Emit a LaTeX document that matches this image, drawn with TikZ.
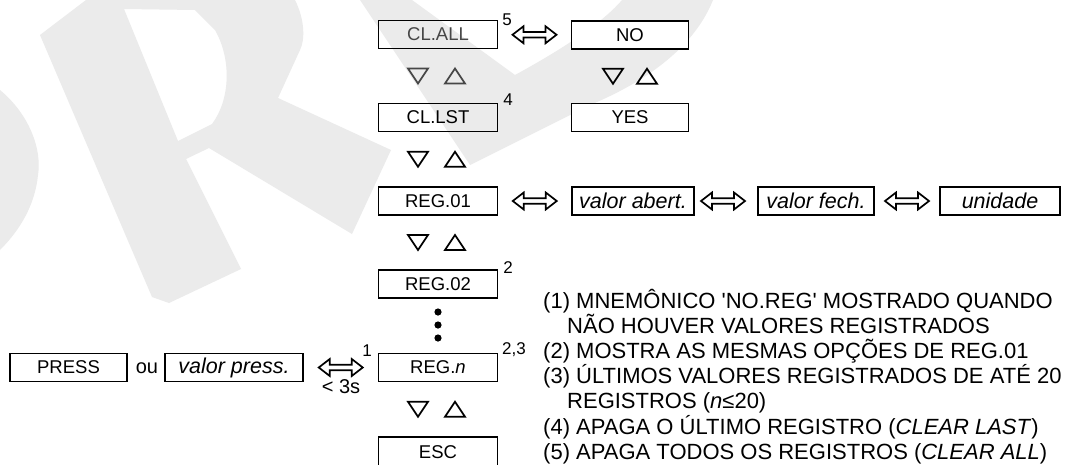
\documentclass[tikz,border=0pt]{standalone}
\usepackage{fontspec}
\setmainfont{Liberation Sans}
\newfontfamily\qfont{Liberation Sans}
\usetikzlibrary{calc}
\tikzset{
  box/.style={draw, line width=1.7pt, minimum height=28pt, inner sep=0pt, font=\fontsize{18.5}{20}\selectfont},
  wbox/.style={box, fill=white},
  ibox/.style={box, font=\fontsize{21.5}{23}\selectfont\itshape},
  sup/.style={inner sep=0pt, font=\fontsize{17}{19}\selectfont},
  note/.style={anchor=base west, inner sep=0pt, font=\fontsize{22}{25}\selectfont},
  plain/.style={inner sep=0pt, font=\fontsize{20}{22}\selectfont},
  dblarr/.pic={\draw[line width=1.7pt, line join=miter] (-22,0) -- (-11,-8.5) -- (-11,-2.7) -- (11,-2.7) -- (11,-8.5) -- (22,0) -- (11,8.5) -- (11,2.7) -- (-11,2.7) -- (-11,8.5) -- cycle;},
  tdown/.pic={\draw[line width=1.7pt, line join=miter, pic actions] (-10,-7.5) -- (10,-7.5) -- (0,7.5) -- cycle;},
  tup/.pic={\draw[line width=1.7pt, line join=miter, pic actions] (-10,7.5) -- (10,7.5) -- (0,-7.5) -- cycle;},
  wm/.style={fill=black!8, draw=none}
}
\begin{document}
\begin{tikzpicture}[x=1pt,y=-1pt]
\fill[white] (0,0) rectangle (1078,464);
\useasboundingbox (0,0) rectangle (1078,464);

% watermark (background)
\fill[wm] (0,90) .. controls (30,115) and (42,150) .. (38,175) .. controls (35,205) and (20,230) .. (0,250) -- cycle;
\fill[wm, even odd rule] (40,35) -- (86,0) -- (295,0) .. controls (305,20) and (305,40) .. (300,50) -- (278,98) -- (391,150) -- (352,234) -- (209,148) -- (186,159) -- (241,269) -- (169,303) -- (152,297) -- cycle
  (124,9) -- (178,141) -- (212,124) .. controls (230,100) and (232,60) .. (215,30) -- (195,10) -- cycle;
\fill[wm] (360,0) -- (412,0) -- (515,75) .. controls (570,45) and (605,20) .. (622,0) -- (713,0) .. controls (695,45) and (650,80) .. (590,105) -- (470,165) -- cycle;

% main column
\node[box, minimum width=119pt, text=black!72] (cla) at (438,34.5) {CL.ALL};
\node[wbox, minimum width=117pt] (no) at (630,35) {NO};
\node[box, minimum width=119pt] (cls) at (438,117.5) {CL.LST};
\node[wbox, minimum width=117pt] (yes) at (630,117.5) {YES};
\node[box, minimum width=119pt] (r01) at (438,201) {REG.01};
\node[ibox, minimum width=122pt] (abert) at (633,201) {valor abert.};
\node[ibox, minimum width=116pt] (fech) at (816,201) {valor fech.};
\node[ibox, minimum width=120pt] (unid) at (1000,201) {unidade};
\node[box, minimum width=119pt] (r02) at (438,284) {REG.02};
\node[box, minimum width=119pt] (rn) at (438,367.5) {REG.\textit{n}};
\node[box, minimum width=119pt, minimum height=31pt] (esc) at (438,452.5) {\raisebox{1.5pt}{ESC}};
\node[box, minimum width=117pt] (press) at (68.5,367.5) {PRESS};
\node[ibox, minimum width=138pt] (vpress) at (234,367.5) {valor press.};
\node[plain] (ou) at (147,368.5) {ou};

% superscripts
\node[sup] (s5) at (507,20) {5};
\node[sup] (s4) at (508,100) {4};
\node[sup] (s2) at (508,268) {2};
\node[sup] (s23) at (514,350) {2,3};
\node[sup] (s1) at (367,351) {1};
\node[plain] (lt3) at (341,387) {< 3s};

% double arrows
\pic at ($(cla.east)!0.5!(no.west)$) {dblarr};
\pic at ($(r01.east)!0.5!(abert.west)$) {dblarr};
\pic at ($(abert.east)!0.5!(fech.west)+(-3,0)$) {dblarr};
\pic at ($(fech.east)!0.5!(unid.west)$) {dblarr};
\pic at ($(vpress.east)!0.5!(rn.west)$) {dblarr};

% triangles
\pic[draw=black!72] at ($(cla.south)!0.5!(cls.north)+(-20,0)$) {tdown};
\pic[draw=black!72] at ($(cla.south)!0.5!(cls.north)+(17,0)$) {tup};
\pic at ($(no.south)!0.5!(yes.north)+(-17,0)$) {tdown};
\pic at ($(no.south)!0.5!(yes.north)+(17,0)$) {tup};
\pic at ($(cls.south)!0.5!(r01.north)+(-20,0)$) {tdown};
\pic at ($(cls.south)!0.5!(r01.north)+(17,0)$) {tup};
\pic at ($(r01.south)!0.5!(r02.north)+(-20,0)$) {tdown};
\pic at ($(r01.south)!0.5!(r02.north)+(17,0)$) {tup};
\pic at ($(rn.south)!0.5!(esc.north)+(-20,0)$) {tdown};
\pic at ($(rn.south)!0.5!(esc.north)+(17,0)$) {tup};

% dots
\fill (438,312) circle (3.6pt);
\fill (438,325) circle (3.6pt);
\fill (438,338) circle (3.6pt);

% notes
\node[note] (n1) at (543,308.5) {(1) MNEMÔNICO {\qfont\symbol{39}}NO.REG{\qfont\symbol{39}} MOSTRADO QUANDO};
\node[note] (n1b) at (567,333.5) {NÃO HOUVER VALORES REGISTRADOS};
\node[note] (n2) at (543,358) {(2) MOSTRA AS MESMAS OPÇÕES DE REG.01};
\node[note] (n3) at (543,383) {(3) ÚLTIMOS VALORES REGISTRADOS DE ATÉ 20};
\node[note] (n3b) at (567,408) {REGISTROS (\textit{n}≤20)};
\node[note] (n4) at (543,434) {(4) APAGA O ÚLTIMO REGISTRO (\textit{CLEAR LAST})};
\node[note] (n5) at (543,459) {(5) APAGA TODOS OS REGISTROS (\textit{CLEAR ALL})};
\end{tikzpicture}
\end{document}
